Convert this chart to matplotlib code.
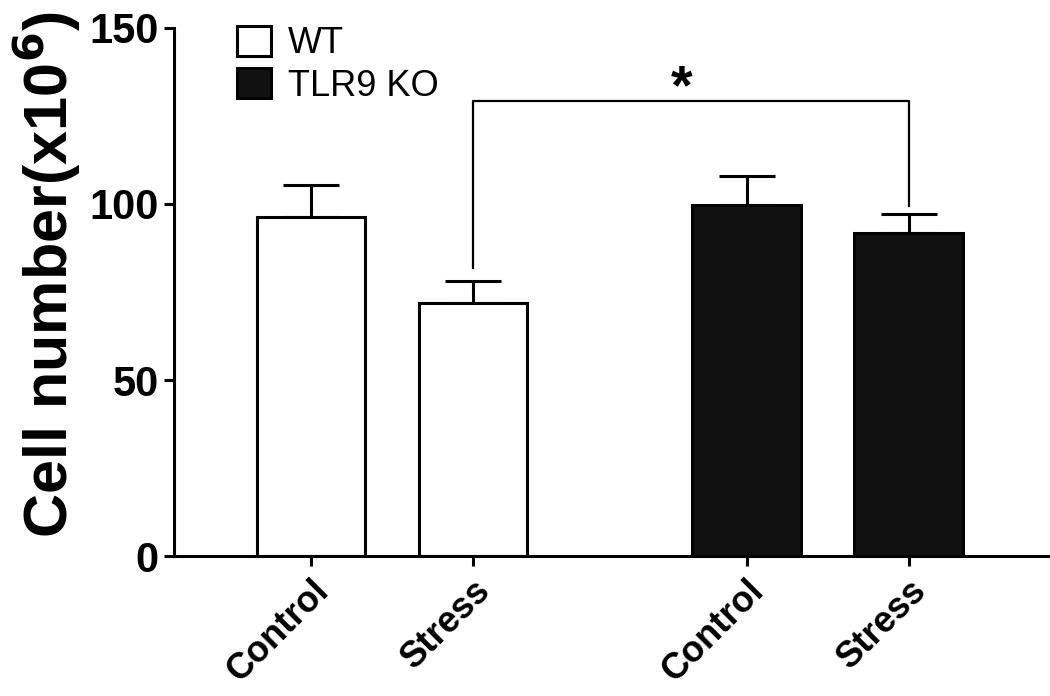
import matplotlib
matplotlib.use("Agg")
import matplotlib.pyplot as plt
from matplotlib.patches import Patch

plt.rcParams['font.family'] = ['Liberation Sans', 'DejaVu Sans']

# datos
grupos = ["WT", "TLR9 KO"]
condiciones = ["Control", "Stress"]
wt_media = [96.4, 72.0]
wt_sem = [9.0, 6.1]
ko_media = [99.7, 91.7]
ko_sem = [8.1, 5.5]
colores = ["white", "#111111"]

# posiciones de las barras (dos grupos separados)
pos_wt = [0, 1]
pos_ko = [2.69, 3.69]
ancho = 0.67

fig = plt.figure(figsize=(10.5, 6.96), dpi=100)
ax = fig.add_axes([0.1657, 0.201, 0.8323, 0.759])

for pos, media, sem, color in [(pos_wt, wt_media, wt_sem, colores[0]),
                               (pos_ko, ko_media, ko_sem, colores[1])]:
    ax.bar(pos, media, width=ancho, color=color, edgecolor='black',
           linewidth=2.2, zorder=2)
    ax.errorbar(pos, media, yerr=[[0] * len(sem), sem], fmt='none',
                ecolor='black', elinewidth=2.2, capsize=20, capthick=2.2,
                zorder=1)

# corchete de significancia entre WT Stress y KO Stress
x1, x2 = pos_wt[1], pos_ko[1]
y_top = 129.3
ax.plot([x1, x1, x2, x2],
        [wt_media[1] + wt_sem[1] + 3.7, y_top, y_top, ko_media[1] + ko_sem[1] + 2.3],
        color='black', linewidth=1.6)
ax.text((x1 + x2) / 2 - 0.055, 128.6, '*', ha='center', va='baseline',
        fontsize=40, fontweight='bold')

ax.set_xlim(-0.846, 4.55)
ax.set_ylim(0, 150)
ax.set_yticks([0, 50, 100, 150])
ax.set_xticks(pos_wt + pos_ko)
ax.set_xticklabels(condiciones * 2, rotation=45, ha='right',
                   rotation_mode='anchor', fontsize=26, fontweight='bold')
for lab in ax.get_yticklabels():
    lab.set_fontsize(30)
    lab.set_fontweight('bold')

ax.spines['top'].set_visible(False)
ax.spines['right'].set_visible(False)
ax.spines['left'].set_linewidth(2.2)
ax.spines['bottom'].set_linewidth(2.2)
ax.tick_params(axis='both', direction='out', length=7, width=2.2)
ax.tick_params(axis='y', pad=4)
ax.tick_params(axis='x', pad=5)

ax.set_ylabel('Cell number(x10$^{\\mathbf{6}}$)', fontsize=44,
              fontweight='bold')
ax.yaxis.set_label_coords(-0.104, 0.532)

handles = [Patch(facecolor=c, edgecolor='black', linewidth=2.2, label=g)
           for g, c in zip(grupos, colores)]
ax.legend(handles=handles, loc='upper left', bbox_to_anchor=(0.2257, 0.963),
          bbox_transform=fig.transFigure, frameon=False, fontsize=26,
          handlelength=0.95, handleheight=0.9, handletextpad=0.45,
          labelspacing=0.2, borderpad=0, borderaxespad=0)

fig.savefig('out.png', dpi=100)
